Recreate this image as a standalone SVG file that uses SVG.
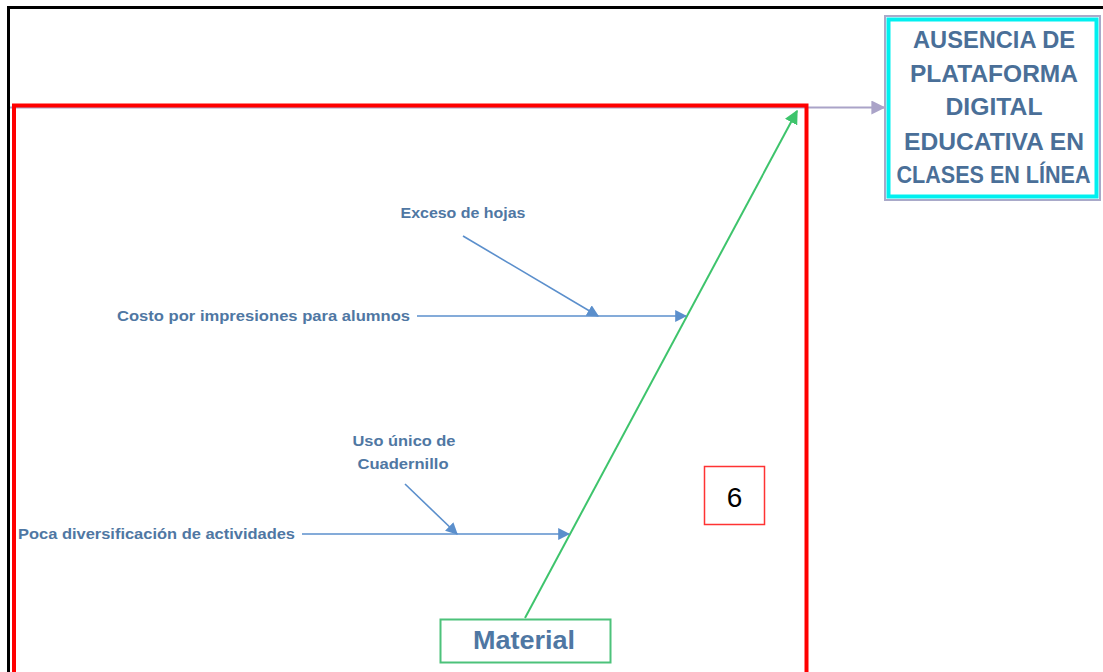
<svg xmlns="http://www.w3.org/2000/svg" width="1103" height="672" viewBox="0 0 1103 672">
<defs>
<style>
.lbl{font-family:"Liberation Sans",Arial,sans-serif;font-weight:bold;fill:#4f77a3;font-size:15.5px;}
.head{font-family:"Liberation Sans",Arial,sans-serif;font-weight:bold;fill:#4a6f98;font-size:24px;text-anchor:middle;}
.bl{stroke:#5b8fcc;stroke-width:1.6;fill:none;}
</style>
<marker id="ab2" viewBox="0 0 10 10" refX="9" refY="5" markerWidth="12" markerHeight="12" markerUnits="userSpaceOnUse" orient="auto"><path d="M0,0L10,5L0,10z" fill="#5b8fcc"/></marker>
<marker id="ag" viewBox="0 0 10 10" refX="9" refY="5" markerWidth="14" markerHeight="14" markerUnits="userSpaceOnUse" orient="auto"><path d="M0,0L10,5L0,10z" fill="#3ec46c"/></marker>
<marker id="ap" viewBox="0 0 10 10" refX="9" refY="5" markerWidth="14" markerHeight="14" markerUnits="userSpaceOnUse" orient="auto"><path d="M0,0L10,5L0,10z" fill="#aaa3c8"/></marker>
</defs>
<rect width="1103" height="672" fill="#fff"/>
<path d="M8.5,672V7.5H1103" fill="none" stroke="#000" stroke-width="3"/>
<g id="connectors">
<line x1="10" y1="107.5" x2="884" y2="107.5" stroke="#aaa3c8" stroke-width="2" marker-end="url(#ap)"/>
<line x1="525" y1="618" x2="797" y2="111" stroke="#3ec46c" stroke-width="2" marker-end="url(#ag)"/>
<line class="bl" x1="417" y1="316" x2="686" y2="316" marker-end="url(#ab2)"/>
<line class="bl" x1="463" y1="236" x2="598" y2="316" marker-end="url(#ab2)"/>
<line class="bl" x1="302" y1="534" x2="569" y2="534" marker-end="url(#ab2)"/>
<line class="bl" x1="405" y1="484" x2="457" y2="534" marker-end="url(#ab2)"/>
</g>
<rect x="14" y="105.5" width="792.5" height="580" fill="none" stroke="#ff0000" stroke-width="4"/>
<g id="effect">
<rect x="885" y="16" width="215" height="184" fill="#fff" stroke="#a9a9c9" stroke-width="2"/>
<rect x="888.5" y="19.5" width="208" height="177" fill="none" stroke="#00f0f0" stroke-width="4"/>
<text class="head" x="994" y="48" textLength="162" lengthAdjust="spacingAndGlyphs">AUSENCIA DE</text>
<text class="head" x="994" y="82" textLength="168" lengthAdjust="spacingAndGlyphs">PLATAFORMA</text>
<text class="head" x="994" y="115" textLength="97" lengthAdjust="spacingAndGlyphs">DIGITAL</text>
<text class="head" x="994" y="150" textLength="180" lengthAdjust="spacingAndGlyphs">EDUCATIVA EN</text>
<text class="head" x="993.5" y="183" textLength="194" lengthAdjust="spacingAndGlyphs">CLASES EN LÍNEA</text>
</g>
<g id="cause1"><text class="lbl" x="117" y="321" textLength="293" lengthAdjust="spacingAndGlyphs">Costo por impresiones para alumnos</text></g>
<g id="sub1"><text class="lbl" x="463" y="218" text-anchor="middle" textLength="125" lengthAdjust="spacingAndGlyphs">Exceso de hojas</text></g>
<g id="cause2"><text class="lbl" x="18" y="539" textLength="277" lengthAdjust="spacingAndGlyphs">Poca diversificación de actividades</text></g>
<g id="sub2"><text class="lbl" x="404" y="446" text-anchor="middle" textLength="103" lengthAdjust="spacingAndGlyphs">Uso único de</text><text class="lbl" x="403" y="469" text-anchor="middle" textLength="91" lengthAdjust="spacingAndGlyphs">Cuadernillo</text></g>
<g id="material">
<rect x="440.5" y="619.5" width="170" height="43" fill="#fff" stroke="#4cc27a" stroke-width="2"/>
<text x="524" y="649" text-anchor="middle" font-family="Liberation Sans,Arial,sans-serif" font-weight="bold" font-size="26" fill="#4f77a3" textLength="102" lengthAdjust="spacingAndGlyphs">Material</text>
</g>
<g id="num">
<rect x="704.5" y="466.5" width="60" height="58" fill="#fff" stroke="#ff3333" stroke-width="1.5"/>
<text x="734.5" y="507" text-anchor="middle" font-family="Liberation Sans,Arial,sans-serif" font-size="28" fill="#000">6</text>
</g>
</svg>
